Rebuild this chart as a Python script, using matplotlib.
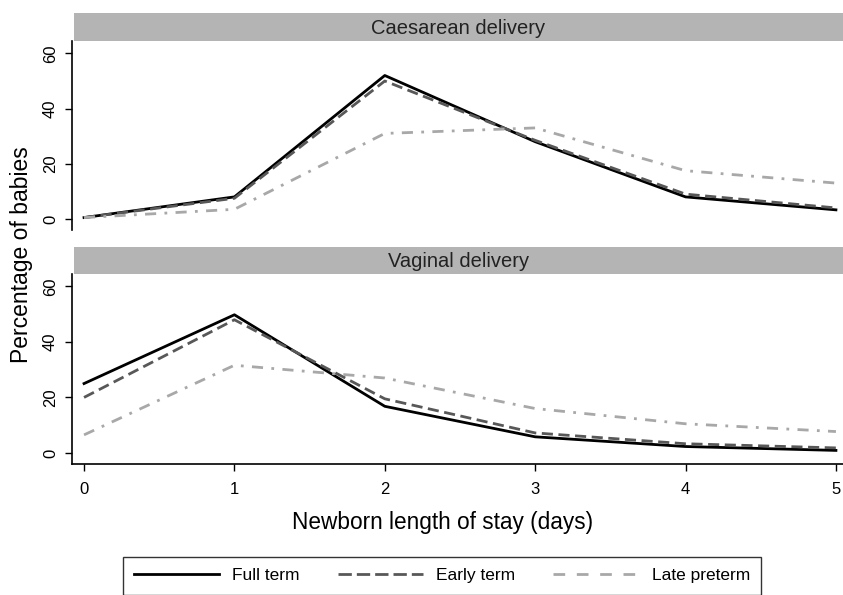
# -*- coding: utf-8 -*-

import matplotlib
matplotlib.use('Agg')
import matplotlib.pyplot as plt
from matplotlib.lines import Line2D


# %% ---------------------------------------------------------------------------

days = [0, 1, 2, 3, 4, 5]

# Caesarean delivery
ces_full = [0.5, 8.0, 52.0, 28.0, 8.0, 3.3]
ces_early = [0.5, 7.5, 50.0, 28.5, 9.0, 4.0]
ces_late = [0.5, 3.5, 31.0, 33.0, 17.5, 13.0]

# Vaginal delivery
vag_full = [25.0, 49.8, 16.8, 5.8, 2.3, 0.9]
vag_early = [20.0, 48.0, 19.5, 7.2, 3.3, 1.8]
vag_late = [6.5, 31.6, 27.0, 16.0, 10.5, 7.7]

panel_titles = ['Caesarean delivery', 'Vaginal delivery']
series_labels = ['Full term', 'Early term', 'Late preterm']
yticks = [0, 20, 40, 60]

plt.rcParams['font.family'] = ['Liberation Sans', 'DejaVu Sans']

W, H = 843, 595
fig = plt.figure(figsize=(W / 100, H / 100), dpi=100)

def fbox(x0, y0, x1, y1):
    # pixel box (top-left origin) -> figure fraction
    return [x0 / W, 1 - y1 / H, (x1 - x0) / W, (y1 - y0) / H]

styles = [dict(color='black', lw=2.0, ls='-'),
          dict(color='#585858', lw=2.0, ls=(0, (4, 2))),
          dict(color='#a8a8a8', lw=2.0, ls=(0, (4, 3, 1, 3)))]


#------------------
panels = [(13, 41, 230, [ces_full, ces_early, ces_late]),
          (247, 274, 464, [vag_full, vag_early, vag_late])]

axs = []
for i, (ys, yp, yb, data) in enumerate(panels):
    strip = fig.add_axes(fbox(74, ys, 843, yp))
    strip.set_facecolor('#b4b4b4')
    strip.set_xticks([]); strip.set_yticks([])
    for s in strip.spines.values():
        s.set_visible(False)
    strip.text(0.5, 0.45, panel_titles[i], ha='center', va='center',
               fontsize=14.5, color='#222222')

    ax = fig.add_axes(fbox(72, yp, 843, yb))
    for vals, st in zip(data, styles):
        ax.plot(days, vals, **st)
    ax.set_xlim(-0.08, 5.047)
    ax.set_ylim(-4, 64.5)
    ax.set_yticks(yticks)
    ax.set_yticklabels([str(v) for v in yticks], rotation=90, va='center',
                       fontsize=12)
    ax.spines['top'].set_visible(False)
    ax.spines['right'].set_visible(False)
    ax.spines['left'].set_linewidth(1.2)
    ax.tick_params(axis='y', length=5, width=1.0, pad=5)
    if i == 0:
        ax.spines['bottom'].set_visible(False)
        ax.set_xticks([])
    else:
        ax.spines['bottom'].set_linewidth(1.2)
        ax.set_xticks(days)
        ax.tick_params(axis='x', length=5, width=1.0, labelsize=12, pad=8)
    axs.append(ax)

fig.text(443 / W, 1 - 523 / H, 'Newborn length of stay (days)',
         ha='center', va='center', fontsize=16.3)
fig.text(22 / W, 1 - 255 / H, 'Percentage of babies', rotation=90,
         ha='center', va='center', fontsize=16.5)


#------------------
handles = [Line2D([], [], color='black', lw=2.0),
           Line2D([], [], color='#585858', lw=2.0, ls=(0, (4.8, 1.8))),
           Line2D([], [], color='#a8a8a8', lw=2.0, ls=(0, (4.2, 4.2)))]

leg = fig.legend(handles, series_labels, ncol=3, loc='upper center',
                 bbox_to_anchor=(442 / W, 1 - 557 / H), fontsize=12.5,
                 frameon=True, fancybox=False, edgecolor='black',
                 handlelength=4.9, handletextpad=0.75, columnspacing=2.2,
                 borderpad=0.65, borderaxespad=0)
leg.get_frame().set_linewidth(1.0)

plt.savefig('out.png', dpi=100)
